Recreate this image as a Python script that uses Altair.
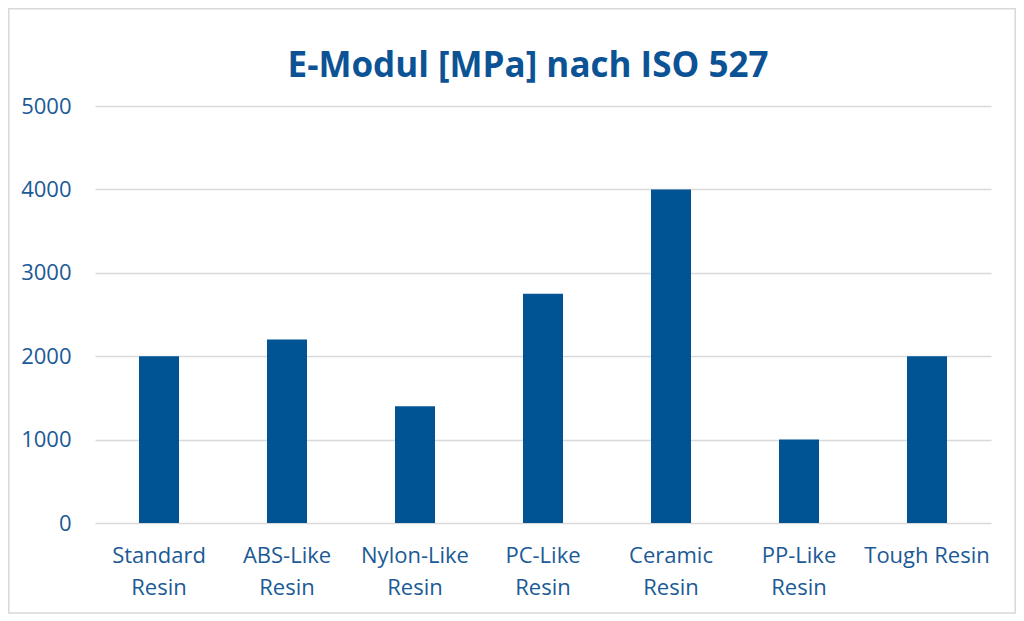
import altair as alt
import pandas as pd

title_text = "E-Modul [MPa] nach ISO 527"
categories = ["Standard\nResin", "ABS-Like\nResin", "Nylon-Like\nResin", "PC-Like\nResin",
              "Ceramic\nResin", "PP-Like\nResin", "Tough Resin"]
values = [2000, 2200, 1400, 2750, 4000, 1000, 2000]
y_ticks = [0, 1000, 2000, 3000, 4000, 5000]

df = pd.DataFrame({"cat": categories, "val": values})

BAR = "#005494"
TEXT = "#1B5A96"
GRID = "#D9D9D9"
W, H = 896, 417

bars = alt.Chart(df).mark_bar(color=BAR).encode(
    x=alt.X("cat:N", sort=categories,
            scale=alt.Scale(paddingInner=0.6875, paddingOuter=0.34375),
            axis=alt.Axis(title=None, labelAngle=0, domain=False, ticks=False,
                          labelExpr="split(datum.label, '\\n')",
                          labelFont="Open Sans", labelFontSize=22, labelColor=TEXT,
                          labelLineHeight=32, labelPadding=22)),
    y=alt.Y("val:Q", scale=alt.Scale(domain=[0, 5000], nice=False),
            axis=alt.Axis(title=None, values=y_ticks, format="d", domain=False, ticks=False,
                          grid=True, gridColor=GRID, gridWidth=1.4,
                          labelFont="Open Sans", labelFontSize=22, labelColor=TEXT,
                          labelPadding=24)),
)

border = alt.Chart(pd.DataFrame({"a": [0]})).mark_rect(
    fill=None, stroke=GRID, strokeWidth=1.5
).encode(
    x=alt.value(-86.2), x2=alt.value(920.2), y=alt.value(-97.2), y2=alt.value(507)
)

title = alt.Chart(pd.DataFrame({"t": [title_text]})).mark_text(
    font="Open Sans", fontSize=35, fontWeight="bold", color="#0B5394",
    align="center", baseline="alphabetic"
).encode(
    text="t:N", x=alt.value(W / 2 - 15), y=alt.value(-29)
)

chart = alt.layer(border, bars, title).properties(
    width=W, height=H,
    autosize=alt.AutoSizeParams(type="none"),
    padding={"left": 87, "top": 98, "right": 25, "bottom": 91},
).configure_view(stroke=None)

chart.save("out.html", embed_options={"renderer": "svg", "actions": False})
